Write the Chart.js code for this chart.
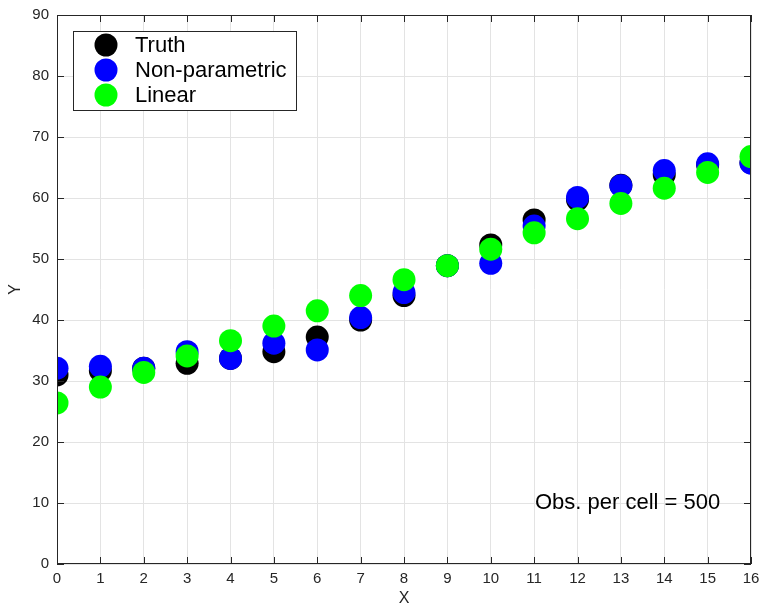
<!DOCTYPE html>
<html lang="en">
<head>
    <meta charset="UTF-8">
    <title>Truth vs estimates</title>
    <script src="https://cdn.jsdelivr.net/npm/chart.js"></script>
    <style>
        html, body { margin: 0; padding: 0; background: #fff; }
        #wrap { width: 764px; height: 605px; }
    </style>
</head>
<body>
    <div id="wrap"><canvas id="scatterChart"></canvas></div>

    <script>
        // values
        var xValues = [0, 1, 2, 3, 4, 5, 6, 7, 8, 9, 10, 11, 12, 13, 14, 15, 16];
        var truthY = [31.0, 31.7, 32.1, 32.9, 33.7, 34.8, 37.2, 40.0, 44.0, 48.9, 52.3, 56.4, 59.7, 62.1, 63.8, 65.4, 65.8];
        var nonParamY = [32.1, 32.4, 32.1, 34.8, 33.7, 36.2, 35.1, 40.4, 44.5, 48.9, 49.3, 55.4, 60.1, 62.0, 64.5, 65.6, 65.7];
        var linearY = [26.4, 29.0, 31.4, 34.1, 36.6, 39.0, 41.5, 44.0, 46.6, 48.9, 51.6, 54.3, 56.6, 59.1, 61.6, 64.2, 66.8];
        var seriesNames = ['Truth', 'Non-parametric', 'Linear'];
        var seriesColors = ['#000000', '#0000ff', '#00ff00'];
        var noteText = 'Obs. per cell = 500';

        var fontFamily = '"Liberation Sans", Arial, Helvetica, sans-serif';

        function toPoints(ys) {
            return xValues.map(function (x, i) { return { x: x, y: ys[i] }; });
        }

        // keep the plot box where the layout padding puts it
        function noLabelPadding(scale) {
            scale.paddingTop = 0;
            scale.paddingBottom = 0;
            scale.paddingLeft = 0;
            scale.paddingRight = 0;
        }

        // box, inward ticks, legend and note, matlab style
        var axesBox = {
            id: 'axesBox',
            afterDatasetsDraw: function (chart) {
                var ctx = chart.ctx;
                var a = chart.chartArea;
                var xs = chart.scales.x;
                var ys = chart.scales.y;
                ctx.save();
                ctx.strokeStyle = '#262626';
                ctx.lineWidth = 1;
                ctx.strokeRect(a.left + 0.5, a.top + 0.5, a.right - a.left - 1, a.bottom - a.top - 1);
                ctx.beginPath();
                xs.ticks.forEach(function (t) {
                    var px = Math.round(xs.getPixelForValue(t.value)) + 0.5;
                    ctx.moveTo(px, a.bottom); ctx.lineTo(px, a.bottom - 7);
                    ctx.moveTo(px, a.top); ctx.lineTo(px, a.top + 7);
                });
                ys.ticks.forEach(function (t) {
                    var py = Math.round(ys.getPixelForValue(t.value)) + 0.5;
                    ctx.moveTo(a.left, py); ctx.lineTo(a.left + 7, py);
                    ctx.moveTo(a.right, py); ctx.lineTo(a.right - 7, py);
                });
                ctx.stroke();

                // legend
                var lx = 73, ly = 31, lw = 223, lh = 79;
                ctx.fillStyle = '#ffffff';
                ctx.fillRect(lx, ly, lw, lh);
                ctx.strokeStyle = '#262626';
                ctx.strokeRect(lx + 0.5, ly + 0.5, lw, lh);
                ctx.font = '22px ' + fontFamily;
                ctx.textBaseline = 'middle';
                seriesNames.forEach(function (name, i) {
                    var cy = 45 + i * 25;
                    ctx.beginPath();
                    ctx.fillStyle = seriesColors[i];
                    ctx.arc(106, cy, 11.5, 0, Math.PI * 2);
                    ctx.fill();
                    ctx.fillStyle = '#000000';
                    ctx.fillText(name, 135, cy + 1);
                });

                ctx.textAlign = 'left';
                ctx.fillText(noteText, 535, 503);
                ctx.restore();
            }
        };

        var ctx = document.getElementById('scatterChart').getContext('2d');
        window.myChart = new Chart(ctx, {
            type: 'scatter',
            data: {
                datasets: [0, 1, 2].map(function (i) {
                    return {
                        label: seriesNames[i],
                        data: toPoints([truthY, nonParamY, linearY][i]),
                        backgroundColor: seriesColors[i],
                        borderColor: seriesColors[i],
                        borderWidth: 0,
                        pointRadius: 11.5,
                        pointHoverRadius: 11.5,
                        order: 3 - i
                    };
                })
            },
            options: {
                responsive: true,
                maintainAspectRatio: false,
                animation: false,
                events: [],
                layout: { padding: { top: 15, right: 13, left: 6, bottom: 0 } },
                scales: {
                    x: {
                        type: 'linear',
                        min: 0,
                        max: 16,
                        afterFit: function (scale) { scale.height = 41; noLabelPadding(scale); },
                        ticks: {
                            stepSize: 1,
                            padding: 6,
                            color: '#262626',
                            font: { family: fontFamily, size: 15 }
                        },
                        grid: { color: '#e3e3e3', drawTicks: false },
                        border: { display: false },
                        title: {
                            display: true,
                            text: 'X',
                            color: '#262626',
                            padding: { top: 0, bottom: -3 },
                            font: { family: fontFamily, size: 16 }
                        }
                    },
                    y: {
                        type: 'linear',
                        min: 0,
                        max: 90,
                        afterFit: function (scale) { scale.width = 51; noLabelPadding(scale); },
                        ticks: {
                            stepSize: 10,
                            padding: 8,
                            color: '#262626',
                            font: { family: fontFamily, size: 15 }
                        },
                        grid: { color: '#e3e3e3', drawTicks: false },
                        border: { display: false },
                        title: {
                            display: true,
                            text: 'Y',
                            color: '#262626',
                            padding: { top: 0, bottom: 0 },
                            font: { family: fontFamily, size: 16 }
                        }
                    }
                },
                plugins: {
                    legend: { display: false },
                    tooltip: { enabled: false }
                }
            },
            plugins: [axesBox]
        });
    </script>
</body>
</html>
